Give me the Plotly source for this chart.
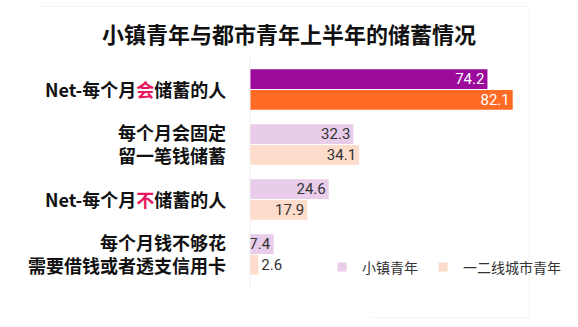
import plotly.graph_objects as go

label_lines = [
    ["Net-每个月<span style='color:#E8175D'>会</span>储蓄的人"],
    ["每个月会固定", "留一笔钱储蓄"],
    ["Net-每个月<span style='color:#E8175D'>不</span>储蓄的人"],
    ["每个月钱不够花", "需要借钱或者透支信用卡"],
]
series_names = ["小镇青年", "一二线城市青年"]
town_values = [74.2, 32.3, 24.6, 7.4]
city_values = [82.1, 34.1, 17.9, 2.6]
title = "小镇青年与都市青年上半年的储蓄情况"

town_colors = ["#9C0A9C", "#E8CCEA", "#E8CCEA", "#E8CCEA"]
city_colors = ["#FF6A24", "#FDDCCB", "#FDDCCB", "#FDDCCB"]
legend_colors = ["#E8CCEA", "#FDDCCB"]
town_text_colors = ["white", "#333333", "#333333", "#333333"]
city_text_colors = ["white", "#333333", "#333333", "#333333"]
city_textpos = ["inside", "inside", "inside", "outside"]

ypos = list(range(len(label_lines)))
FONT = "Noto Sans CJK SC"

fig = go.Figure()
fig.add_trace(go.Bar(
    y=ypos, x=town_values, orientation="h", name=series_names[0], showlegend=False,
    marker=dict(color=town_colors, line=dict(width=0)),
    text=[f"{v:.1f}" for v in town_values], textposition="inside",
    insidetextanchor="end",
    textfont=dict(color=town_text_colors, size=15, family="Roboto"),
    hoverinfo="skip",
))
fig.add_trace(go.Bar(
    y=ypos, x=city_values, orientation="h", name=series_names[1], showlegend=False,
    marker=dict(color=city_colors, line=dict(width=0)),
    text=[f"{v:.1f}" for v in city_values], textposition=city_textpos,
    insidetextanchor="end",
    textfont=dict(color=city_text_colors, size=15, family="Roboto"),
    hoverinfo="skip", cliponaxis=False,
))
for name, col in zip(series_names, legend_colors):
    fig.add_trace(go.Scatter(
        x=[None], y=[None], mode="markers", name=name,
        marker=dict(symbol="square", size=9, color=col),
    ))

annotations = []
for i, lines in enumerate(label_lines):
    annotations.append(dict(
        x=-0.086, xref="paper", y=i, yref="y", yshift=1,
        text="<br>".join(f"<b>{line}</b>" for line in lines),
        showarrow=False, xanchor="right", align="right", borderpad=0,
        yanchor="middle", font=dict(size=18, color="#111111", family=FONT),
    ))

fig.update_layout(
    width=578, height=327,
    margin=dict(l=250, r=14, t=62, b=45),
    paper_bgcolor="white", plot_bgcolor="white",
    barmode="group", bargap=0.25, bargroupgap=0.04,
    uniformtext=dict(minsize=15, mode="show"),
    title=dict(text=f"<b>{title}</b>", x=0.5, xanchor="center", xref="container",
               y=1 - 35 / 327, yanchor="middle", yref="container",
               font=dict(size=22, color="#111111", family=FONT)),
    xaxis=dict(range=[0, 85], visible=False),
    yaxis=dict(range=[3.5, -0.5], showticklabels=False, showgrid=False,
               zeroline=False, showline=False),
    showlegend=True,
    legend=dict(orientation="h", x=0.265, y=0.066, xanchor="left", yanchor="middle",
                font=dict(size=14, color="#333333", family=FONT),
                bgcolor="rgba(0,0,0,0)", itemwidth=30, traceorder="normal",
                tracegroupgap=0),
    annotations=annotations,
    shapes=[
        dict(type="line", xref="paper", yref="paper", x0=0, x1=0, y0=-0.02, y1=1.02,
             line=dict(color="#EEEEEE", width=1)),
        dict(type="line", xref="paper", yref="paper",
             x0=(8 - 250) / 314, x1=(572 - 250) / 314,
             y0=(282.5 - 7) / 220, y1=(282.5 - 7) / 220,
             line=dict(color="#F2F2F2", width=1), layer="below"),
        dict(type="line", xref="paper", yref="paper",
             x0=(572 - 250) / 314, x1=(572 - 250) / 314,
             y0=(282.5 - 7) / 220, y1=(282.5 - 318) / 220,
             line=dict(color="#F2F2F2", width=1), layer="below"),
        dict(type="line", xref="paper", yref="paper",
             x0=(390 - 250) / 314, x1=(572 - 250) / 314,
             y0=(282.5 - 318) / 220, y1=(282.5 - 318) / 220,
             line=dict(color="#F2F2F2", width=1), layer="below"),
    ],
)

fig.write_html("out.html")
